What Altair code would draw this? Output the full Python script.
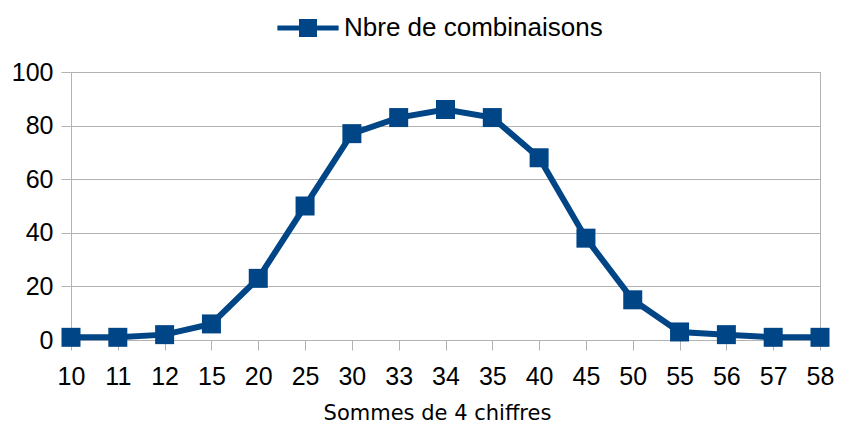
import altair as alt
import pandas as pd

sums = ["10", "11", "12", "15", "20", "25", "30", "33", "34", "35",
        "40", "45", "50", "55", "56", "57", "58"]
counts = [1, 1, 2, 6, 23, 50, 77, 83, 86, 83, 68, 38, 15, 3, 2, 1, 1]
series_name = "Nbre de combinaisons"

df = pd.DataFrame({"somme": sums, "n": counts, "serie": series_name})

COLOR = "#004586"
GRID = "#b3b3b3"

x_enc = alt.X("somme:O", sort=sums, scale=alt.Scale(type="point", padding=0),
              axis=alt.Axis(title="Sommes de 4 chiffres", labelAngle=0,
                            grid=False, tickSize=10, labelPadding=14,
                            titleFont="DejaVu Sans", titleFontSize=21,
                            titleFontWeight="normal",
                            titleX=366, titleY=79, titleBaseline="alphabetic"))
y_enc = alt.Y("n:Q", scale=alt.Scale(domain=[0, 100], nice=False),
              axis=alt.Axis(title=None, values=[0, 20, 40, 60, 80, 100],
                            tickSize=10, labelPadding=8, grid=True))

base = alt.Chart(df)

line = base.mark_line(color=COLOR, strokeWidth=6).encode(x=x_enc, y=y_enc)

pts = base.mark_square(size=361, opacity=1, filled=True).encode(
    x=x_enc, y=y_enc,
    color=alt.Color("serie:N", scale=alt.Scale(range=[COLOR]),
                    legend=alt.Legend(title=None, orient="none",
                                      legendX=224, legendY=-57,
                                      symbolType="M-3.4,-0.28H3.4V0.28H-3.4Z M-1,-1H1V1H-1Z",
                                      symbolSize=324, symbolStrokeWidth=0,
                                      symbolFillColor=COLOR,
                                      labelOffset=23, padding=0,
                                      labelFont="Liberation Sans",
                                      labelFontSize=26, labelColor="black",
                                      labelLimit=0)))

chart = alt.layer(line, pts).properties(
    width=749, height=268,
    autosize=alt.AutoSizeParams(type="none"),
    padding={"left": 63, "top": 64, "right": 14, "bottom": 84},
).configure_view(stroke=GRID, strokeWidth=1).configure_axis(
    domainColor=GRID, tickColor=GRID, gridColor=GRID,
    labelFont="Liberation Sans", labelFontSize=25, labelColor="black",
    titleColor="black",
)

chart.save("out.html", embed_options={"renderer": "svg", "actions": False})
